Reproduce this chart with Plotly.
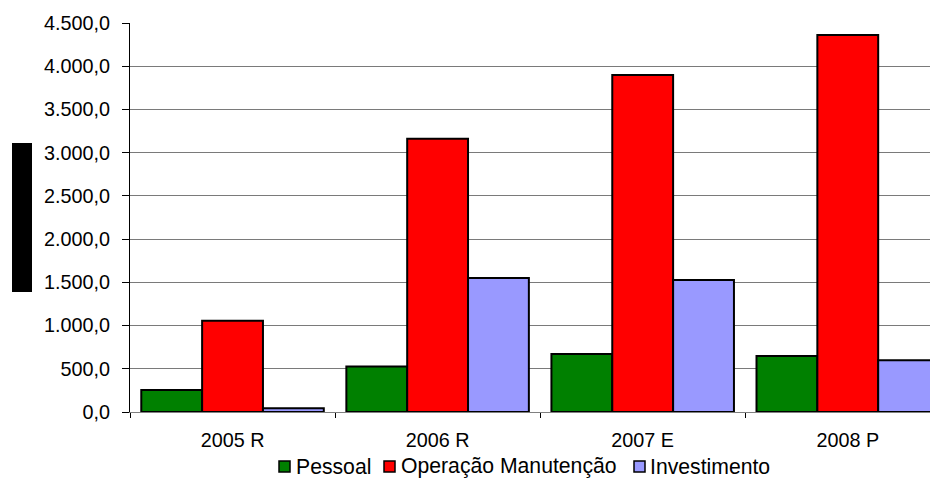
import plotly.graph_objects as go

categories = ["2005 R", "2006 R", "2007 E", "2008 P"]
pessoal = [255, 525, 670, 648]
operacao = [1057, 3160, 3898, 4362]
investimento = [43, 1550, 1528, 598]
series_names = ["Pessoal", "Operação Manutenção", "Investimento"]
colors = ["#008000", "#FF0000", "#9999FF"]

FONT = "Liberation Sans, Arial, sans-serif"
FS = 19.8
FS_LEG = 21.2

# the page body adds an 8px offset; figure is sized to the visible area
OFF = 8
W, H = 938 - OFF, 479 - OFF

fig = go.Figure()
for name, vals, col in zip(series_names, [pessoal, operacao, investimento], colors):
    fig.add_trace(go.Bar(
        x=categories, y=vals, name=name, showlegend=False,
        marker=dict(color=col, line=dict(color="black", width=2)),
    ))

# plot area in page pixels: x 130..938, y 23..412
L, R, T, B = 130, 938, 23, 412
def px(x):
    return (x - L) / (R - L)
def py(y):
    return (B - y) / (B - T)

# custom legend (layout positions, page pixels)
sq_left = [279, 384, 634]
txt_left = [296, 401, 650]
shapes = [dict(type="rect", xref="paper", yref="paper", x0=px(12), x1=px(32),
               y0=py(292), y1=py(143), fillcolor="black", line=dict(width=0))]
annotations = []
for name, col, sx, tx in zip(series_names, colors, sq_left, txt_left):
    shapes.append(dict(type="rect", xref="paper", yref="paper",
                       x0=px(sx), x1=px(sx + 11), y0=py(472), y1=py(461),
                       fillcolor=col, line=dict(color="black", width=1.5)))
    annotations.append(dict(text=name, xref="paper", yref="paper", x=px(tx - 2),
                            y=py(466), xanchor="left", yanchor="middle",
                            showarrow=False, font=dict(family=FONT, size=FS_LEG, color="black")))

fig.update_layout(
    width=W, height=H,
    margin=dict(l=L - OFF, r=0, t=T - OFF, b=H - (B - OFF)),
    paper_bgcolor="white", plot_bgcolor="white",
    barmode="group", bargap=0.11, bargroupgap=0,
    separators=",.",
    font=dict(family=FONT, size=FS, color="black"),
    showlegend=False,
    xaxis=dict(range=[-0.5, 3.44], showline=True, linecolor="#808080", linewidth=1,
               ticks="outside", tickson="boundaries", ticklen=5, tickcolor="black",
               ticklabelstandoff=10,
               showgrid=False, tickfont=dict(size=FS)),
    yaxis=dict(range=[0, 4500], dtick=500, tickformat=",.1f", showline=True,
               linecolor="black", linewidth=1, ticks="outside", ticklen=7,
               tickcolor="black", ticklabelstandoff=8,
               showgrid=True, gridcolor="#7a7a7a", gridwidth=1,
               zeroline=False, tickfont=dict(size=FS)),
    shapes=shapes,
    annotations=annotations,
)

fig.write_html("out.html")
